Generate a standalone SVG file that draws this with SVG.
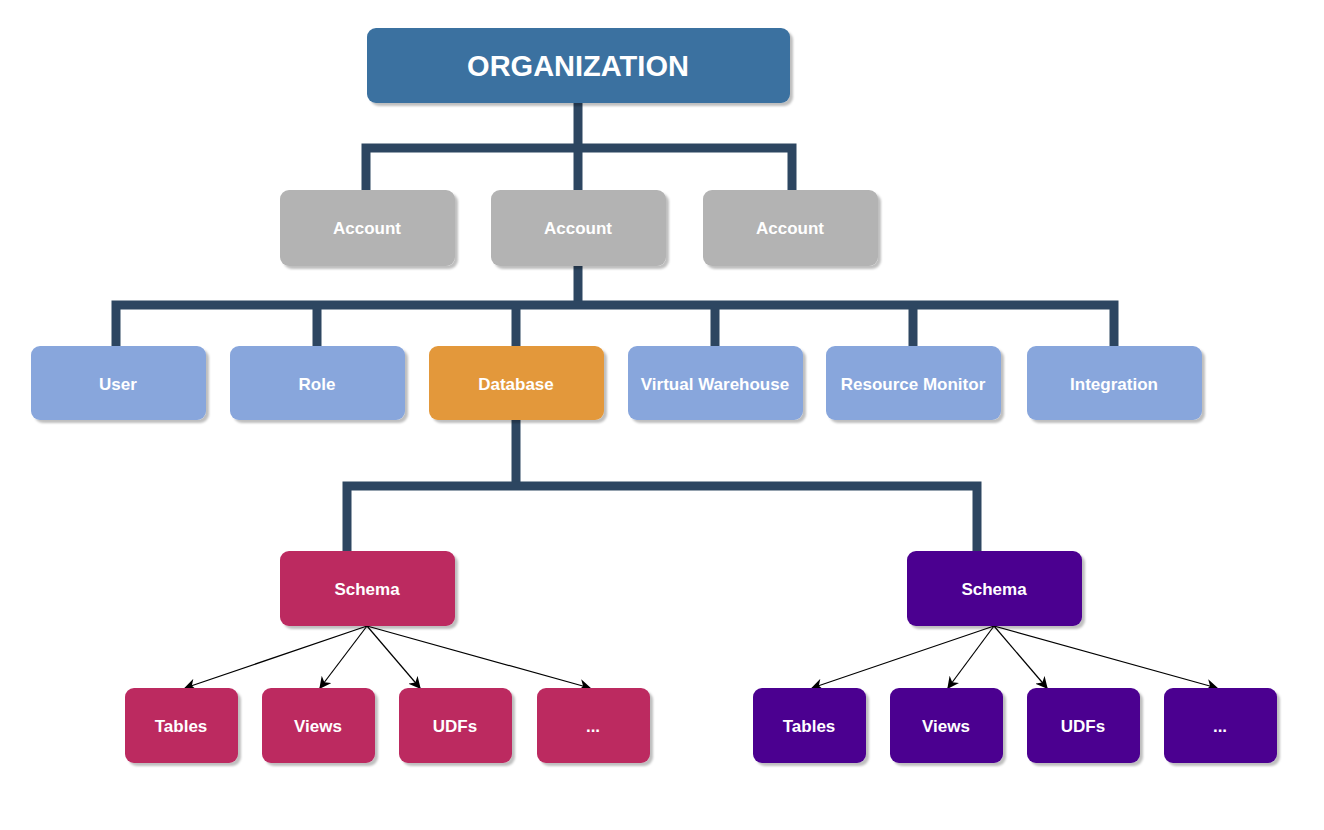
<svg xmlns="http://www.w3.org/2000/svg" width="1324" height="830" viewBox="0 0 1324 830">
<defs>
<filter id="sh" x="-10%" y="-10%" width="130%" height="140%">
<feDropShadow dx="3" dy="3" stdDeviation="1.2" flood-color="#000" flood-opacity="0.25"/>
</filter>
<marker id="arr" viewBox="0 0 10 10" refX="9" refY="5" markerWidth="12" markerHeight="12" markerUnits="userSpaceOnUse" orient="auto">
<path d="M0,0 L10,5 L0,10 L3,5 Z" fill="#000"/>
</marker>
</defs>
<style>
.n rect{filter:url(#sh)}
.n text{font-family:"Liberation Sans",Arial,sans-serif;font-weight:bold;fill:#fff;text-anchor:middle;font-size:17px}
.org rect{fill:#3a71a0}
.acc rect{fill:#b3b3b3}
.blu rect{fill:#88a6dc}
.ora rect{fill:#e3983a}
.red rect{fill:#bc2b61}
.pur rect{fill:#4b0390}
.thick{fill:none;stroke:#2d4661;stroke-width:9;stroke-linejoin:miter}
.thin{fill:none;stroke:#000;stroke-width:1.2;marker-end:url(#arr)}
</style>
<g id="connectors">
<path class="thick" d="M578 103 V148"/>
<path class="thick" d="M366 190 V148 H792 V190"/>
<path class="thick" d="M578 148 V190"/>
<path class="thick" d="M578 266 V305"/>
<path class="thick" d="M116 346 V305 H1114 V346"/>
<path class="thick" d="M317 305 V346 M516 305 V346 M715 305 V346 M913 305 V346"/>
<path class="thick" d="M516 420 V486"/>
<path class="thick" d="M347 551 V486 H977 V551"/>
<path class="thin" d="M367 626 L185 688"/>
<path class="thin" d="M367 626 L320 688"/>
<path class="thin" d="M367 626 L420 688"/>
<path class="thin" d="M367 626 L590 688"/>
<path class="thin" d="M994 626 L812 688"/>
<path class="thin" d="M994 626 L948 688"/>
<path class="thin" d="M994 626 L1047 688"/>
<path class="thin" d="M994 626 L1217 688"/>
</g>
<g id="organization" class="n org"><rect x="367" y="28" width="423" height="75" rx="9"/><text x="578" y="76" style="font-size:29px">ORGANIZATION</text></g>
<g id="account1" class="n acc"><rect x="280" y="190" width="175" height="76" rx="9"/><text x="367" y="234">Account</text></g>
<g id="account2" class="n acc"><rect x="491" y="190" width="175" height="76" rx="9"/><text x="578" y="234">Account</text></g>
<g id="account3" class="n acc"><rect x="703" y="190" width="175" height="76" rx="9"/><text x="790" y="234">Account</text></g>
<g id="user" class="n blu"><rect x="31" y="346" width="175" height="74" rx="9"/><text x="118" y="390">User</text></g>
<g id="role" class="n blu"><rect x="230" y="346" width="175" height="74" rx="9"/><text x="317" y="390">Role</text></g>
<g id="database" class="n ora"><rect x="429" y="346" width="175" height="74" rx="9"/><text x="516" y="390">Database</text></g>
<g id="warehouse" class="n blu"><rect x="628" y="346" width="175" height="74" rx="9"/><text x="715" y="390">Virtual Warehouse</text></g>
<g id="monitor" class="n blu"><rect x="826" y="346" width="175" height="74" rx="9"/><text x="913" y="390">Resource Monitor</text></g>
<g id="integration" class="n blu"><rect x="1027" y="346" width="175" height="74" rx="9"/><text x="1114" y="390">Integration</text></g>
<g id="schema1" class="n red"><rect x="280" y="551" width="175" height="75" rx="9"/><text x="367" y="595">Schema</text></g>
<g id="schema2" class="n pur"><rect x="907" y="551" width="175" height="75" rx="9"/><text x="994" y="595">Schema</text></g>
<g id="tables1" class="n red"><rect x="125" y="688" width="113" height="75" rx="9"/><text x="181" y="732">Tables</text></g>
<g id="views1" class="n red"><rect x="262" y="688" width="113" height="75" rx="9"/><text x="318" y="732">Views</text></g>
<g id="udfs1" class="n red"><rect x="399" y="688" width="113" height="75" rx="9"/><text x="455" y="732">UDFs</text></g>
<g id="more1" class="n red"><rect x="537" y="688" width="113" height="75" rx="9"/><text x="593" y="732">...</text></g>
<g id="tables2" class="n pur"><rect x="753" y="688" width="113" height="75" rx="9"/><text x="809" y="732">Tables</text></g>
<g id="views2" class="n pur"><rect x="890" y="688" width="113" height="75" rx="9"/><text x="946" y="732">Views</text></g>
<g id="udfs2" class="n pur"><rect x="1027" y="688" width="113" height="75" rx="9"/><text x="1083" y="732">UDFs</text></g>
<g id="more2" class="n pur"><rect x="1164" y="688" width="113" height="75" rx="9"/><text x="1220" y="732">...</text></g>
</svg>
